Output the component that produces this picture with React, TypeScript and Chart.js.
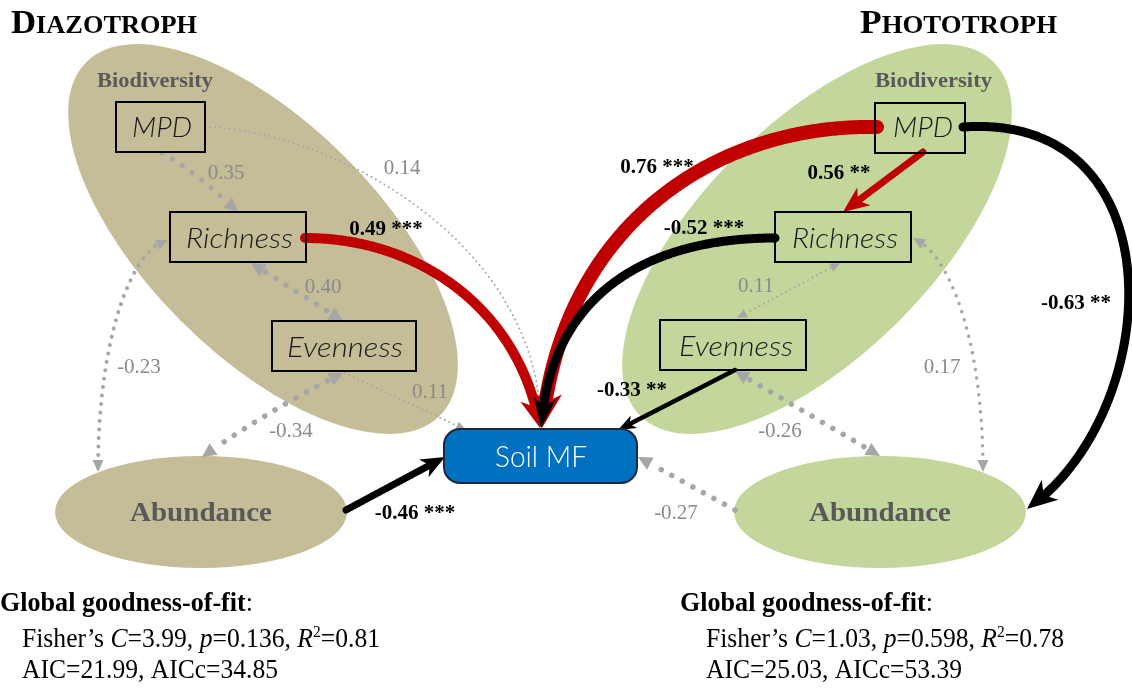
import { useEffect, useRef } from "react";
import { Chart, registerables } from "chart.js";

Chart.register(...registerables);

const WIDTH = 1132;
const HEIGHT = 688;

// ---------------- model results ----------------
const panelTitles = ["Diazotroph", "Phototroph"];

// standardised path coefficients of each piecewise SEM
const diazotrophPaths = [
  { from: "MPD", to: "Richness", coef: 0.35, sig: "", both: false },
  { from: "Richness", to: "Evenness", coef: 0.4, sig: "", both: true },
  { from: "Richness", to: "Abundance", coef: -0.23, sig: "", both: true },
  { from: "Evenness", to: "Abundance", coef: -0.34, sig: "", both: true },
  { from: "MPD", to: "Soil MF", coef: 0.14, sig: "", both: false },
  { from: "Evenness", to: "Soil MF", coef: 0.11, sig: "", both: false },
  { from: "Richness", to: "Soil MF", coef: 0.49, sig: "***", both: false },
  { from: "Abundance", to: "Soil MF", coef: -0.46, sig: "***", both: false },
];

const phototrophPaths = [
  { from: "MPD", to: "Soil MF", coef: 0.76, sig: "***", both: false },
  { from: "MPD", to: "Richness", coef: 0.56, sig: "**", both: false },
  { from: "Richness", to: "Soil MF", coef: -0.52, sig: "***", both: false },
  { from: "Evenness", to: "Soil MF", coef: -0.33, sig: "**", both: false },
  { from: "MPD", to: "Abundance", coef: -0.63, sig: "**", both: false },
  { from: "Richness", to: "Evenness", coef: 0.11, sig: "", both: true },
  { from: "Richness", to: "Abundance", coef: 0.17, sig: "", both: true },
  { from: "Evenness", to: "Abundance", coef: -0.26, sig: "", both: true },
  { from: "Abundance", to: "Soil MF", coef: -0.27, sig: "", both: false },
];

// global goodness-of-fit, [diazotroph, phototroph]
const fisherC = [3.99, 1.03];
const fisherP = [0.136, 0.598];
const rSquared = [0.81, 0.78];
const aicValues = [21.99, 25.03];
const aiccValues = [34.85, 53.39];

// ---------------- diagram layout (x to the right, y downwards) ----------------
type P = [number, number];

const groupEllipses = [
  { cx: 263, cy: 239, a: 250, b: 116, rot: Math.PI / 4, fill: "#c4bd97" },
  { cx: 817, cy: 239, a: 250, b: 116, rot: -Math.PI / 4, fill: "#c3d69b" },
];

const titleLayout = [
  { x: 11, w: 186, base: 33 },
  { x: 860, w: 197, base: 33 },
];

const biodiversityLabel = [
  { x: 97, w: 116, base: 87 },
  { x: 875, w: 117, base: 87 },
];

// [left, top, right, bottom] and text [left, right, baseline]
const boxNodes: Record<string, number[]>[] = [
  { MPD: [116, 102, 205, 152], Richness: [170, 212, 306, 262], Evenness: [272, 321, 416, 371] },
  { MPD: [875, 103, 965, 153], Richness: [775, 212, 911, 262], Evenness: [660, 320, 806, 370] },
];
const boxText: Record<string, number[]>[] = [
  { MPD: [132, 192, 137], Richness: [186, 293, 248], Evenness: [287, 403, 357] },
  { MPD: [893, 953, 137], Richness: [792, 898, 248], Evenness: [679, 793, 356] },
];

const abundanceNodes = [
  { cx: 201, cy: 512, rx: 146, ry: 56, tx: 130, tw: 142, fill: "#c4bd97" },
  { cx: 880, cy: 512, rx: 146, ry: 56, tx: 809, tw: 142, fill: "#c3d69b" },
];

const soilBox = { x0: 444, y0: 429, x1: 637, y1: 483, tx: 495, tw: 92, base: 467 };

type Route = { pts: P[]; w: number; gap?: number; head: [number, number]; lab: P };

const diazotrophRoutes: Route[] = [
  { pts: [[162, 153], [196, 172], [238, 212]], w: 5, gap: 12, head: [14, 13], lab: [226, 172] },
  { pts: [[251, 263], [343, 321]], w: 5.5, gap: 12, head: [14, 14], lab: [323, 286] },
  { pts: [[168, 240], [135, 246], [98, 330], [98, 472]], w: 4, gap: 8.5, head: [12, 11], lab: [139, 366] },
  { pts: [[343, 373], [272, 408], [202, 457]], w: 5.5, gap: 12, head: [14, 14], lab: [291, 430] },
  { pts: [[205, 127], [330, 130], [540, 240], [541, 428]], w: 2, gap: 5, head: [10, 9], lab: [402, 167] },
  { pts: [[345, 373], [466, 430]], w: 2, gap: 5, head: [10, 9], lab: [430, 391] },
  { pts: [[305, 238], [420, 238], [520, 310], [540, 428]], w: 10, head: [30, 26], lab: [386, 228] },
  { pts: [[346, 510], [445, 457]], w: 7, head: [24, 20], lab: [415, 512] },
];

const phototrophRoutes: Route[] = [
  { pts: [[877, 127], [712, 124], [562, 228], [542, 428]], w: 14, head: [36, 30], lab: [657, 166] },
  { pts: [[923, 152], [843, 212]], w: 7, head: [26, 22], lab: [839, 172] },
  { pts: [[775, 238], [640, 238], [550, 300], [541, 428]], w: 9, head: [30, 22], lab: [704, 227] },
  { pts: [[735, 370], [618, 430]], w: 4.5, head: [18, 14], lab: [632, 389] },
  { pts: [[963, 127], [1180, 112], [1165, 412], [1027, 509]], w: 9, head: [30, 26], lab: [1076, 302] },
  { pts: [[840, 263], [737, 318]], w: 2, gap: 5, head: [10, 9], lab: [756, 285] },
  { pts: [[913, 238], [945, 250], [983, 330], [983, 472]], w: 3.5, gap: 8.5, head: [12, 11], lab: [942, 366] },
  { pts: [[735, 371], [880, 456]], w: 5.5, gap: 12, head: [14, 14], lab: [780, 430] },
  { pts: [[735, 510], [638, 457]], w: 5.5, gap: 12, head: [14, 14], lab: [676, 512] },
];

const fitLines = [
  { x: [0, 680], w: 253, base: 611 },
  { x: [22, 706], w: 358, base: 647 },
  { x: [22, 706], w: 256, base: 678 },
];

// ---------------- drawing helpers ----------------
const SERIF = '"Liberation Serif", "Times New Roman", serif';
const RED = "#c00000";
const GREY = "#a6a6a6";
const LABEL_GREY = "#8a8a8a";

function bez(pts: P[], t: number): P {
  let q = pts.map((p) => [p[0], p[1]] as P);
  while (q.length > 1) {
    const n: P[] = [];
    for (let i = 0; i < q.length - 1; i++) {
      n.push([q[i][0] + (q[i + 1][0] - q[i][0]) * t, q[i][1] + (q[i + 1][1] - q[i][1]) * t]);
    }
    q = n;
  }
  return q[0];
}

function sample(pts: P[], n = 240): P[] {
  const out: P[] = [];
  for (let i = 0; i <= n; i++) out.push(bez(pts, i / n));
  return out;
}

function cumulative(poly: P[]): number[] {
  const c = [0];
  for (let i = 1; i < poly.length; i++) {
    c.push(c[i - 1] + Math.hypot(poly[i][0] - poly[i - 1][0], poly[i][1] - poly[i - 1][1]));
  }
  return c;
}

function pointAt(poly: P[], cum: number[], s: number): P {
  if (s <= 0) return poly[0];
  const total = cum[cum.length - 1];
  if (s >= total) return poly[poly.length - 1];
  for (let i = 1; i < cum.length; i++) {
    if (cum[i] >= s) {
      const f = (s - cum[i - 1]) / (cum[i] - cum[i - 1] || 1);
      return [poly[i - 1][0] + (poly[i][0] - poly[i - 1][0]) * f, poly[i - 1][1] + (poly[i][1] - poly[i - 1][1]) * f];
    }
  }
  return poly[poly.length - 1];
}

function subPath(poly: P[], cum: number[], s0: number, s1: number): P[] {
  const out: P[] = [pointAt(poly, cum, s0)];
  for (let i = 0; i < poly.length; i++) if (cum[i] > s0 && cum[i] < s1) out.push(poly[i]);
  out.push(pointAt(poly, cum, s1));
  return out;
}

function arrowHead(ctx: CanvasRenderingContext2D, tip: P, back: P, len: number, wid: number, notch: number, color: string) {
  const dx = tip[0] - back[0];
  const dy = tip[1] - back[1];
  const d = Math.hypot(dx, dy) || 1;
  const ux = dx / d;
  const uy = dy / d;
  const nx = -uy;
  const ny = ux;
  const bx = tip[0] - ux * len;
  const by = tip[1] - uy * len;
  ctx.beginPath();
  ctx.moveTo(tip[0], tip[1]);
  ctx.lineTo(bx + (nx * wid) / 2, by + (ny * wid) / 2);
  ctx.lineTo(tip[0] - ux * len * notch, tip[1] - uy * len * notch);
  ctx.lineTo(bx - (nx * wid) / 2, by - (ny * wid) / 2);
  ctx.closePath();
  ctx.fillStyle = color;
  ctx.fill();
}

function fitText(ctx: CanvasRenderingContext2D, text: string, x: number, base: number, w: number, font: string, color: string) {
  ctx.save();
  ctx.font = font;
  const m = ctx.measureText(text).width || 1;
  ctx.translate(x, base);
  ctx.scale(w / m, 1);
  ctx.fillStyle = color;
  ctx.textAlign = "left";
  ctx.textBaseline = "alphabetic";
  ctx.fillText(text, 0, 0);
  ctx.restore();
}

type Seg = { t: string; font: string; dy?: number };

function fitSegments(ctx: CanvasRenderingContext2D, segs: Seg[], x: number, base: number, w: number, color: string) {
  ctx.save();
  let total = 0;
  for (const s of segs) {
    ctx.font = s.font;
    total += ctx.measureText(s.t).width;
  }
  ctx.translate(x, base);
  ctx.scale(w / total, 1);
  ctx.fillStyle = color;
  ctx.textAlign = "left";
  ctx.textBaseline = "alphabetic";
  let cx = 0;
  for (const s of segs) {
    ctx.font = s.font;
    ctx.fillText(s.t, cx, s.dy || 0);
    cx += ctx.measureText(s.t).width;
  }
  ctx.restore();
}

const pathSets = [diazotrophPaths, phototrophPaths];
const routeSets = [diazotrophRoutes, phototrophRoutes];

const diagramPlugin = {
  id: "semDiagram",
  afterDatasetsDraw(chart: Chart) {
    const ctx = chart.ctx;
    const xs = chart.scales.x;
    const ys = chart.scales.y;
    const X = (v: number) => xs.getPixelForValue(v);
    const Y = (v: number) => ys.getPixelForValue(v);
    const toPx = (p: P): P => [X(p[0]), Y(p[1])];
    const sx = (d: number) => X(d) - X(0);
    const sy = (d: number) => Y(d) - Y(0);

    ctx.save();

    // grouping ellipses
    for (const e of groupEllipses) {
      ctx.beginPath();
      ctx.ellipse(X(e.cx), Y(e.cy), sx(e.a), sy(e.b), e.rot, 0, Math.PI * 2);
      ctx.fillStyle = e.fill;
      ctx.fill();
    }

    // abundance nodes
    abundanceNodes.forEach((n) => {
      ctx.beginPath();
      ctx.ellipse(X(n.cx), Y(n.cy), sx(n.rx), sy(n.ry), 0, 0, Math.PI * 2);
      ctx.fillStyle = n.fill;
      ctx.fill();
    });

    // paths: dotted (non-significant) first, then solid
    for (const pass of [0, 1]) {
      pathSets.forEach((paths, k) => {
        paths.forEach((p, i) => {
          const r = routeSets[k][i];
          const significant = p.sig !== "";
          if ((pass === 1) !== significant) return;
          const poly = sample(r.pts.map(toPx));
          const cum = cumulative(poly);
          const total = cum[cum.length - 1];
          const [hl, hw] = r.head;
          const color = significant ? (p.coef > 0 ? RED : "#000000") : GREY;
          ctx.save();
          ctx.strokeStyle = color;
          ctx.lineWidth = r.w;
          ctx.lineCap = "round";
          ctx.lineJoin = "round";
          let s0 = 0;
          let s1 = total;
          if (significant) {
            s1 = total - hl * 0.6;
          } else {
            ctx.setLineDash([0.01, r.gap || 8]);
            s1 = total - hl - r.w * 0.6;
            if (p.both) s0 = hl + r.w * 0.6;
          }
          const seg = subPath(poly, cum, s0, s1);
          ctx.beginPath();
          ctx.moveTo(seg[0][0], seg[0][1]);
          for (let j = 1; j < seg.length; j++) ctx.lineTo(seg[j][0], seg[j][1]);
          ctx.stroke();
          ctx.restore();
          const notch = significant ? 0.72 : 1;
          arrowHead(ctx, poly[poly.length - 1], pointAt(poly, cum, total - hl), hl, hw, notch, color);
          if (p.both) arrowHead(ctx, poly[0], pointAt(poly, cum, hl), hl, hw, notch, color);
        });
      });
    }

    // biodiversity boxes
    boxNodes.forEach((boxes, k) => {
      Object.keys(boxes).forEach((name) => {
        const b = boxes[name];
        ctx.lineWidth = 2;
        ctx.strokeStyle = "#000000";
        ctx.strokeRect(X(b[0]), Y(b[1]), sx(b[2] - b[0]), sy(b[3] - b[1]));
        const t = boxText[k][name];
        fitText(ctx, name, X(t[0]), Y(t[2]), sx(t[1] - t[0]), 'italic 300 28px Lato, "Open Sans", sans-serif', "#1a1a1a");
      });
    });

    // Soil MF node
    {
      const x0 = X(soilBox.x0);
      const y0 = Y(soilBox.y0);
      const w = sx(soilBox.x1 - soilBox.x0);
      const h = sy(soilBox.y1 - soilBox.y0);
      const r = 16;
      ctx.beginPath();
      ctx.moveTo(x0 + r, y0);
      ctx.arcTo(x0 + w, y0, x0 + w, y0 + h, r);
      ctx.arcTo(x0 + w, y0 + h, x0, y0 + h, r);
      ctx.arcTo(x0, y0 + h, x0, y0, r);
      ctx.arcTo(x0, y0, x0 + w, y0, r);
      ctx.closePath();
      ctx.fillStyle = "#0070c0";
      ctx.fill();
      ctx.lineWidth = 2;
      ctx.strokeStyle = "#1b2a3a";
      ctx.stroke();
      fitText(ctx, "Soil MF", X(soilBox.tx), Y(soilBox.base), sx(soilBox.tw), '300 29px Lato, "Open Sans", sans-serif', "#ffffff");
    }

    // abundance labels
    abundanceNodes.forEach((n) => {
      fitText(ctx, "Abundance", X(n.tx), Y(521), sx(n.tw), `bold 28px ${SERIF}`, "#595959");
    });

    // biodiversity group labels
    biodiversityLabel.forEach((b) => {
      fitText(ctx, "Biodiversity", X(b.x), Y(b.base), sx(b.w), `bold 22px ${SERIF}`, "#595959");
    });

    // path coefficients
    pathSets.forEach((paths, k) => {
      paths.forEach((p, i) => {
        const r = routeSets[k][i];
        const significant = p.sig !== "";
        const text = p.coef.toFixed(2) + (significant ? " " + p.sig : "");
        ctx.font = significant ? `bold 21px ${SERIF}` : `21px ${SERIF}`;
        ctx.fillStyle = significant ? "#000000" : LABEL_GREY;
        ctx.textAlign = "center";
        ctx.textBaseline = "alphabetic";
        ctx.fillText(text, X(r.lab[0]), Y(r.lab[1] + 7));
      });
    });

    // panel titles in small capitals
    panelTitles.forEach((title, k) => {
      const up = title.toUpperCase();
      const t = titleLayout[k];
      fitSegments(
        ctx,
        [
          { t: up[0], font: `bold 33px ${SERIF}` },
          { t: up.slice(1), font: `bold 25px ${SERIF}` },
        ],
        X(t.x),
        Y(t.base),
        sx(t.w),
        "#000000"
      );
    });

    // global goodness-of-fit (condensed serif)
    panelTitles.forEach((_, k) => {
      const reg = `28px ${SERIF}`;
      const it = `italic 28px ${SERIF}`;
      fitSegments(
        ctx,
        [
          { t: "Global goodness-of-fit", font: `bold 28px ${SERIF}` },
          { t: ":", font: reg },
        ],
        X(fitLines[0].x[k]),
        Y(fitLines[0].base),
        sx(fitLines[0].w),
        "#000000"
      );
      fitSegments(
        ctx,
        [
          { t: "Fisher\u2019s ", font: reg },
          { t: "C", font: it },
          { t: "=" + fisherC[k].toFixed(2) + ", ", font: reg },
          { t: "p", font: it },
          { t: "=" + fisherP[k].toFixed(3) + ", ", font: reg },
          { t: "R", font: it },
          { t: "2", font: `17px ${SERIF}`, dy: -10 },
          { t: "=" + rSquared[k].toFixed(2), font: reg },
        ],
        X(fitLines[1].x[k]),
        Y(fitLines[1].base),
        sx(fitLines[1].w),
        "#000000"
      );
      fitSegments(
        ctx,
        [{ t: "AIC=" + aicValues[k].toFixed(2) + ", AICc=" + aiccValues[k].toFixed(2), font: reg }],
        X(fitLines[2].x[k]),
        Y(fitLines[2].base),
        sx(fitLines[2].w),
        "#000000"
      );
    });

    ctx.restore();
  },
};

export default function App() {
  const ref = useRef<HTMLCanvasElement>(null);

  useEffect(() => {
    document.body.style.margin = "0";
    const canvas = ref.current;
    if (!canvas) return;
    const nodeCentres = [
      ...abundanceNodes.map((n) => ({ x: n.cx, y: n.cy })),
      { x: (soilBox.x0 + soilBox.x1) / 2, y: (soilBox.y0 + soilBox.y1) / 2 },
    ];
    const chart = new Chart(canvas, {
      type: "scatter",
      data: { datasets: [{ data: nodeCentres, pointRadius: 0, showLine: false }] },
      options: {
        responsive: false,
        animation: false,
        events: [],
        layout: { padding: 0 },
        plugins: { legend: { display: false }, tooltip: { enabled: false } },
        scales: {
          x: { type: "linear", min: 0, max: WIDTH, display: false },
          y: { type: "linear", min: 0, max: HEIGHT, reverse: true, display: false },
        },
      },
      plugins: [diagramPlugin],
    });
    return () => chart.destroy();
  }, []);

  return (
    <div style={{ width: WIDTH, height: HEIGHT, background: "#ffffff" }}>
      <canvas ref={ref} width={WIDTH} height={HEIGHT} style={{ display: "block" }} />
    </div>
  );
}
